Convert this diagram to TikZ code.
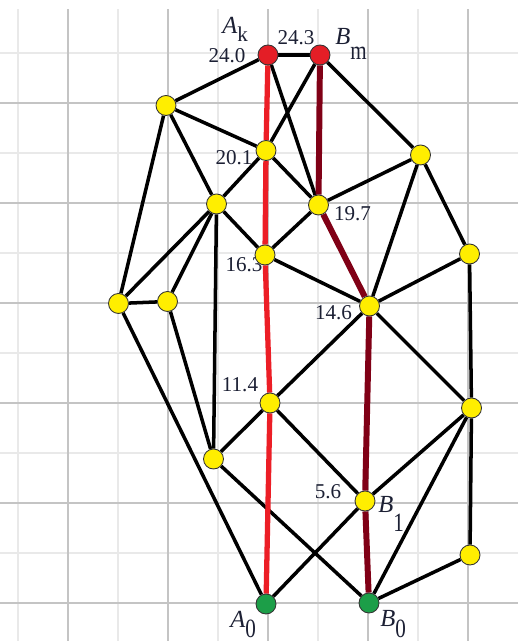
\documentclass[tikz,border=0pt]{standalone}
\usepackage{fontspec}
\setmainfont{Liberation Serif}
\usetikzlibrary{calc,backgrounds}
\definecolor{ink}{RGB}{28,32,52}
\definecolor{gridmaj}{RGB}{196,196,196}
\definecolor{gridmin}{RGB}{233,233,233}
\definecolor{pathred}{RGB}{236,30,38}
\definecolor{pathdark}{RGB}{128,0,22}
\definecolor{nodered}{RGB}{228,30,38}
\definecolor{nodeyel}{RGB}{255,238,0}
\definecolor{nodegrn}{RGB}{28,158,72}
\tikzset{
  edge/.style={line width=2pt,draw=black},
  redpath/.style={line width=3pt,draw=pathred},
  darkpath/.style={line width=3.4pt,draw=pathdark},
  vtx/.style={circle,draw=black!80,line width=0.5pt,minimum size=4mm,inner sep=0pt},
  yv/.style={vtx,fill=nodeyel},
  rv/.style={vtx,fill=nodered},
  gv/.style={vtx,fill=nodegrn},
  num/.style={font=\fontsize{12}{12}\selectfont,text=ink,inner sep=0pt},
  let/.style={font=\fontsize{14}{14}\selectfont\itshape,text=ink,inner sep=0pt,anchor=base west}
}
\newcommand{\lowidx}[3][1.25]{\raisebox{-#2}{\scalebox{1}[#1]{\upshape\fontsize{12}{12}\selectfont #3}}}

\begin{document}
\begin{tikzpicture}
  \useasboundingbox (-5.36,-0.76) rectangle (5.0,12.06);
  % vertices
  \node[rv] (ak) at (0,10.96) {};
  \node[rv] (bm) at (1.04,10.96) {};
  \node[yv] (tl) at (-2.04,9.95) {};
  \node[yv] (v201) at (-0.04,9.05) {};
  \node[yv] (tr) at (3.05,8.96) {};
  \node[yv] (ml) at (-1.03,7.98) {};
  \node[yv] (v197) at (1.01,7.96) {};
  \node[yv] (rr) at (4.03,6.98) {};
  \node[yv] (v163) at (-0.06,6.96) {};
  \node[yv] (ll) at (-2.99,5.99) {};
  \node[yv] (lc) at (-2.01,6.03) {};
  \node[yv] (v146) at (2.03,5.94) {};
  \node[yv] (v114) at (0.04,4.0) {};
  \node[yv] (rb) at (4.07,3.9) {};
  \node[yv] (lb) at (-1.09,2.88) {};
  \node[yv] (b1) at (1.94,2.04) {};
  \node[yv] (br) at (4.04,0.96) {};
  \node[gv] (a0) at (-0.04,-0.02) {};
  \node[gv] (b0) at (2.02,0) {};

  \begin{scope}[on background layer]
    \fill[white] (-5.36,-0.76) rectangle (5.0,12.06);
    % grid
    \foreach \gx in {-5,-3,...,3} \draw[gridmin,line width=1.1pt] (\gx,-0.76) -- (\gx,11.88);
    \foreach \gy in {1,3,...,11} \draw[gridmin,line width=1.1pt] (-5.36,\gy) -- (5.0,\gy);
    \foreach \gx in {-4,-2,...,4} \draw[gridmaj,line width=1.1pt] (\gx,-0.76) -- (\gx,11.88);
    \foreach \gy in {0,2,...,10} \draw[gridmaj,line width=1.1pt] (-5.36,\gy) -- (5.0,\gy);
    % edges
    \foreach \p/\q in {ak/bm,ak/tl,ak/v197,bm/v201,bm/tr,tl/v201,tl/ml,tl/ll,
      v201/v197,v201/ml,tr/v197,tr/v146,tr/rr,ml/ll,ml/lc,ml/v163,ml/lb,
      v197/v163,ll/lc,ll/a0,lc/lb,v163/v146,v146/rr,v146/v114,v146/rb,
      rr/rb,v114/lb,v114/b1,lb/b0,a0/b1,b1/rb,b0/rb,b0/br,rb/br}
      \draw[edge] (\p) -- (\q);
    \draw[redpath] (ak) -- (v201) -- (v163) -- (v114) -- (a0);
    \draw[darkpath] (bm) -- (v197) -- (v146) -- (b1) -- (b0);
    % values
    \node[num] at ($(ak)+(-0.82,-0.02)$) {24.0};
    \node[num] at ($(bm)+(-0.48,0.34)$) {24.3};
    \node[num] at ($(v201)+(-0.64,-0.15)$) {20.1};
    \node[num] at ($(v197)+(0.68,-0.18)$) {19.7};
    \node[num] at ($(v163)+(-0.42,-0.2)$) {16.3};
    \node[num] at ($(v146)+(-0.72,-0.14)$) {14.6};
    \node[num] at ($(v114)+(-0.6,0.36)$) {11.4};
    \node[num] at ($(b1)+(-0.74,0.18)$) {5.6};
  \end{scope}

  % names
  \node[let] at ($(ak)+(-0.92,0.42)$) {A\lowidx[1]{4.5pt}{k}};
  \node[let] at ($(bm)+(0.30,0.20)$) {B\lowidx{8.5pt}{m}};
  \node[let] at ($(b1)+(0.26,-0.24)$) {B\lowidx{10.5pt}{1}};
  \node[let] at ($(a0)+(-0.72,-0.46)$) {A\lowidx{5.7pt}{0}};
  \node[let] at ($(b0)+(0.22,-0.48)$) {B\lowidx{6.2pt}{0}};
\end{tikzpicture}
\end{document}
